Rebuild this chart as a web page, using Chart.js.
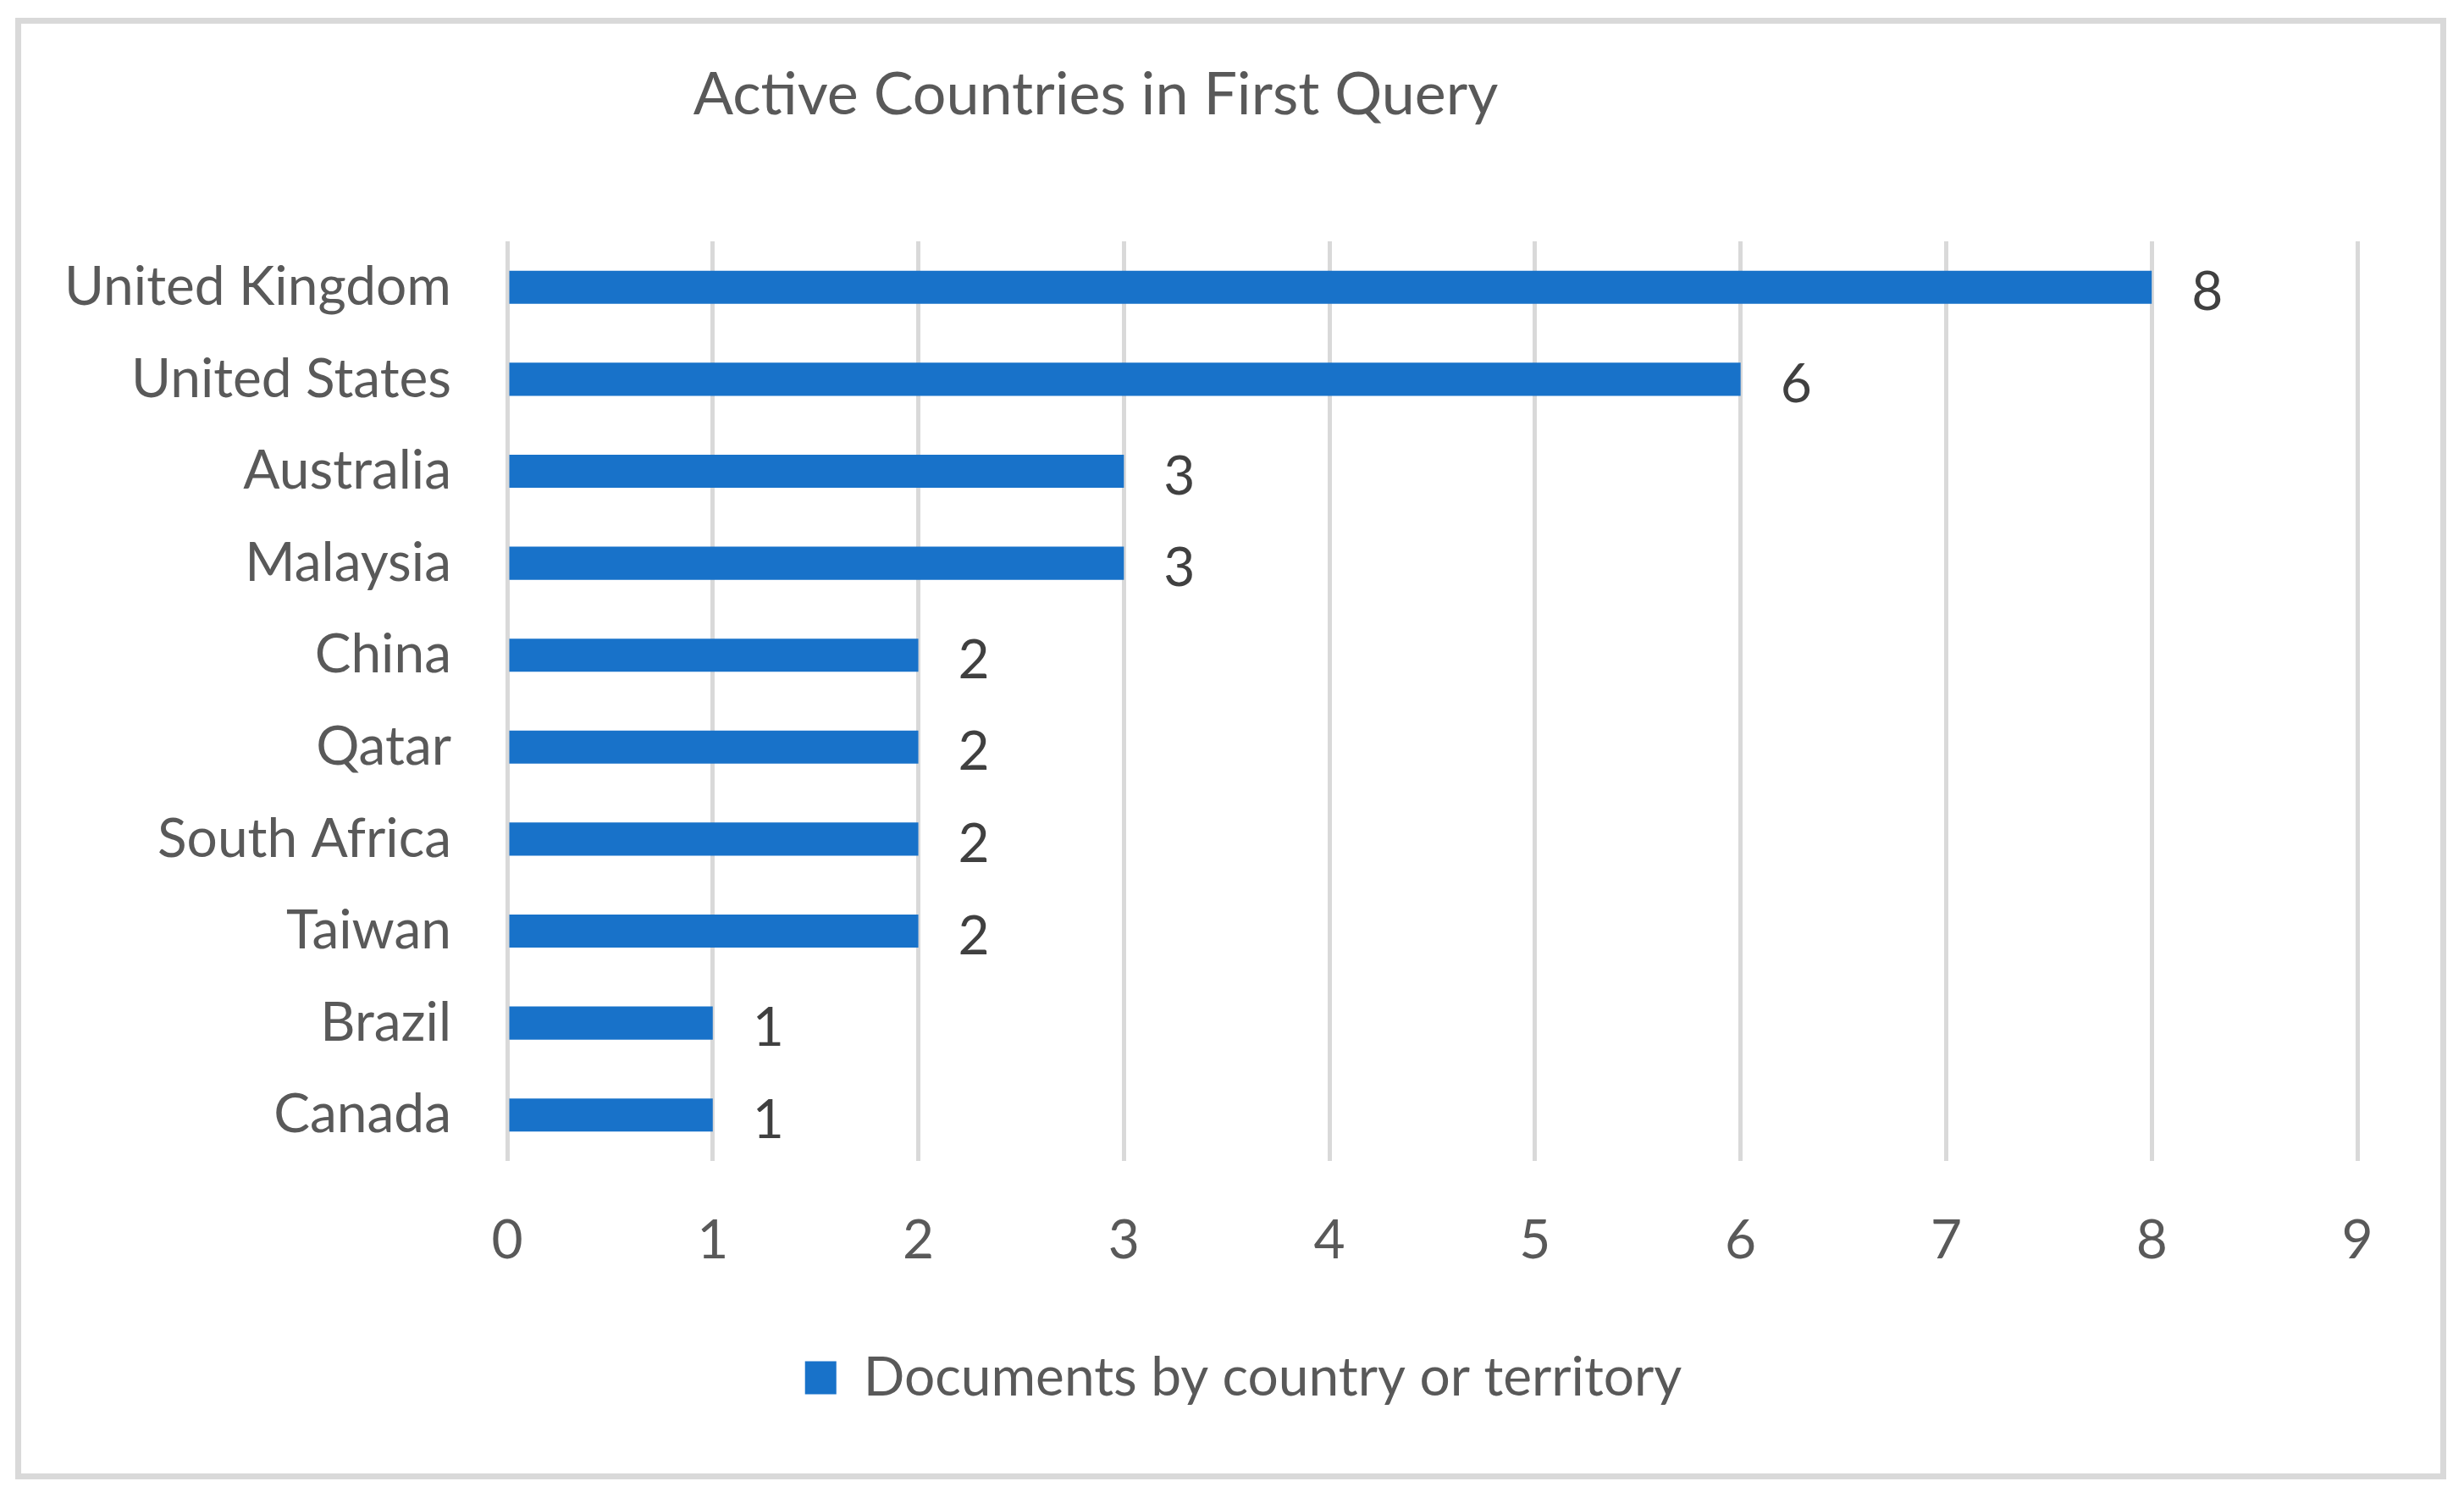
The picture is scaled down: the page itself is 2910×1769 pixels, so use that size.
<!DOCTYPE html>
<html>
<head>
<meta charset="utf-8">
<title>Active Countries in First Query</title>
<script src="https://cdn.jsdelivr.net/npm/chart.js@4"></script>
<style>
  html, body { margin: 0; padding: 0; background: #fff; }
  #frame {
    position: absolute; left: 18px; top: 21px;
    width: 2871px; height: 1726px;
    border: 7px solid #d9d9d9; box-sizing: border-box;
  }
  #chart { display: block; }
</style>
</head>
<body>
<div id="frame"><canvas id="chart" width="2857" height="1712"></canvas></div>
<script>
// data
var countries = ['United Kingdom', 'United States', 'Australia', 'Malaysia', 'China',
                 'Qatar', 'South Africa', 'Taiwan', 'Brazil', 'Canada'];
var documents = [8, 6, 3, 3, 2, 2, 2, 2, 1, 1];
var xTicks = [0, 1, 2, 3, 4, 5, 6, 7, 8, 9];
var chartTitle = 'Active Countries in First Query';
var seriesName = 'Documents by country or territory';

var FONT = 'Lato';
var GREY = '#595959';
var BLUE = '#1872C9';

// title sits left of centre in the original, so draw it ourselves
var titlePlugin = {
  id: 'offTitle',
  afterDraw: function(chart) {
    var ctx = chart.ctx;
    ctx.save();
    ctx.font = '70px ' + FONT;
    ctx.fillStyle = GREY;
    ctx.textAlign = 'center';
    ctx.textBaseline = 'alphabetic';
    ctx.fillText(chartTitle, 1269, 107);
    ctx.restore();
  }
};

// value labels to the right of each bar
var valuePlugin = {
  id: 'valueLabels',
  afterDatasetsDraw: function(chart) {
    var ctx = chart.ctx;
    var meta = chart.getDatasetMeta(0);
    ctx.save();
    ctx.font = '64px ' + FONT;
    ctx.fillStyle = '#404040';
    ctx.textAlign = 'left';
    ctx.textBaseline = 'alphabetic';
    meta.data.forEach(function(bar, i) {
      ctx.fillText(String(documents[i]), bar.x + 47, bar.y + 27);
    });
    ctx.restore();
  }
};

// legend is centred on the whole frame, not on the padded area
var legendShift = {
  id: 'legendShift',
  afterLayout: function(chart) {
    chart.legend.left += 64;
    chart.legend.right += 64;
  }
};

var ctx = document.getElementById('chart');

new Chart(ctx, {
  type: 'bar',
  data: {
    labels: countries,
    datasets: [{
      label: seriesName,
      data: documents,
      backgroundColor: BLUE,
      borderWidth: 0,
      barPercentage: 0.36,
      categoryPercentage: 1
    }]
  },
  options: {
    indexAxis: 'y',
    responsive: false,
    animation: false,
    devicePixelRatio: 1,
    layout: { padding: { top: 257, right: 98, bottom: 71, left: 0 } },
    scales: {
      x: {
        min: 0,
        max: 9,
        afterBuildTicks: function(scale) {
          scale.ticks = xTicks.map(function(v) { return { value: v }; });
        },
        afterFit: function(scale) { scale.height = 214; },
        grid: { color: '#d9d9d9', lineWidth: 5, drawTicks: false },
        border: { display: false },
        ticks: { color: GREY, font: { family: FONT, size: 64 }, padding: 56 }
      },
      y: {
        afterFit: function(scale) { scale.width = 574; },
        grid: { display: false, drawTicks: false },
        border: { display: false },
        ticks: { color: GREY, font: { family: FONT, size: 64 }, padding: 66 }
      }
    },
    plugins: {
      title: { display: false },
      tooltip: { enabled: false },
      legend: {
        position: 'bottom',
        labels: {
          color: GREY,
          font: { family: FONT, size: 64 },
          boxWidth: 37,
          boxHeight: 39,
          padding: 10
        }
      }
    }
  },
  plugins: [titlePlugin, valuePlugin, legendShift]
});
</script>
</body>
</html>
